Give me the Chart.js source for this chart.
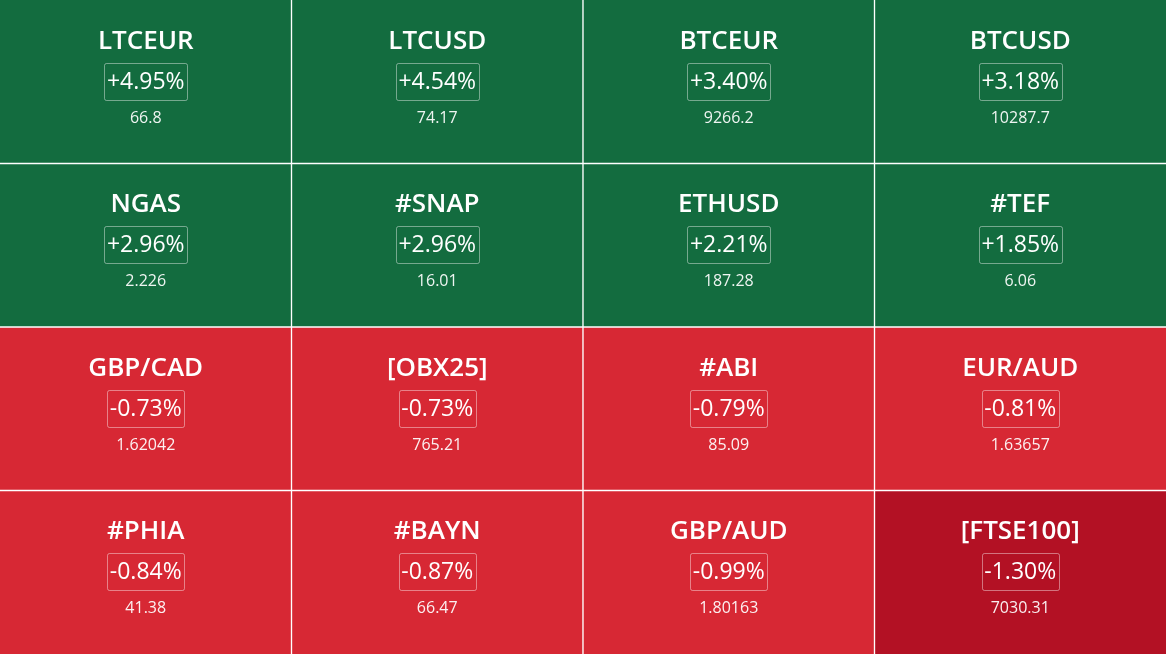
<!DOCTYPE html>
<html>
<head>
<meta charset="utf-8">
<script src="https://cdn.jsdelivr.net/npm/chart.js@4/dist/chart.umd.min.js"></script>
<style>
  html, body { margin: 0; padding: 0; background: #ffffff; }
  #wrap { width: 1166px; height: 654px; position: relative; }
</style>
</head>
<body>
<div id="wrap"><canvas id="c" width="1166" height="654"></canvas></div>
<script>
// Tile data, row by row (4 columns)
const symbols = [
  "LTCEUR", "LTCUSD", "BTCEUR", "BTCUSD",
  "NGAS", "#SNAP", "ETHUSD", "#TEF",
  "GBP/CAD", "[OBX25]", "#ABI", "EUR/AUD",
  "#PHIA", "#BAYN", "GBP/AUD", "[FTSE100]"
];
const changes = [
  4.95, 4.54, 3.40, 3.18,
  2.96, 2.96, 2.21, 1.85,
  -0.73, -0.73, -0.79, -0.81,
  -0.84, -0.87, -0.99, -1.30
];
const prices = [
  "66.8", "74.17", "9266.2", "10287.7",
  "2.226", "16.01", "187.28", "6.06",
  "1.62042", "765.21", "85.09", "1.63657",
  "41.38", "66.47", "1.80163", "7030.31"
];
const columns = ["c1", "c2", "c3", "c4"];
const rows = 4;

const GREEN = "#136c3f";
const RED = "#d72834";
const DARK_RED = "#b31124";

function tileColor(v) {
  if (v > 0) return GREEN;
  if (v <= -1) return DARK_RED;
  return RED;
}
function fmtChange(v) {
  return (v > 0 ? "+" : "") + v.toFixed(2) + "%";
}

const datasets = [];
for (let r = 0; r < rows; r++) {
  const idx = columns.map((_, c) => r * columns.length + c);
  datasets.push({
    label: "row" + r,
    data: idx.map(() => [r, r + 1]),
    tileIndex: idx,
    backgroundColor: idx.map(i => tileColor(changes[i])),
    borderColor: "#ffffff",
    borderSkipped: false,
    borderWidth: (ctx) => {
      const c = ctx.dataIndex;
      const rr = ctx.datasetIndex;
      return {
        left: c > 0 ? 1 : 0,
        right: c < columns.length - 1 ? 1 : 0,
        top: rr > 0 ? 1 : 0,
        bottom: rr < rows - 1 ? 1 : 0
      };
    },
    categoryPercentage: 1,
    barPercentage: 1,
    grouped: false
  });
}

const FONT = "'Open Sans', 'Noto Sans', sans-serif";

const labelsPlugin = {
  id: "tileLabels",
  afterDatasetsDraw(chart) {
    const ctx = chart.ctx;
    ctx.save();
    chart.data.datasets.forEach((ds, di) => {
      const meta = chart.getDatasetMeta(di);
      meta.data.forEach((el, j) => {
        const i = ds.tileIndex[j];
        const p = el.getProps(["x", "y", "base", "width"], true);
        const top = Math.min(p.y, p.base);
        const bottom = Math.max(p.y, p.base);
        const cx = p.x;
        const cy = (top + bottom) / 2;

        ctx.textAlign = "center";
        ctx.textBaseline = "middle";

        // symbol
        ctx.fillStyle = "#ffffff";
        ctx.font = "600 26px " + FONT;
        ctx.fillText(symbols[i], cx, cy - 40.5);

        // change box
        ctx.font = "400 23px " + FONT;
        const txt = fmtChange(changes[i]);
        const w = Math.round(ctx.measureText(txt).width + 5);
        const h = 37;
        const bx = Math.round(cx - w / 2) + 0.5;
        const by = Math.round(cy - 0.5 - h / 2) + 0.5;
        ctx.strokeStyle = "rgba(255,255,255,0.42)";
        ctx.lineWidth = 1;
        ctx.beginPath();
        if (ctx.roundRect) ctx.roundRect(bx, by, w, h, 2);
        else ctx.rect(bx, by, w, h);
        ctx.stroke();
        ctx.fillStyle = "#ffffff";
        ctx.fillText(txt, cx, cy + 0.5);

        // price
        ctx.font = "400 16px " + FONT;
        ctx.fillStyle = "rgba(255,255,255,0.93)";
        ctx.fillText(prices[i], cx, cy + 36.5);
      });
    });
    ctx.restore();
  }
};

new Chart(document.getElementById("c"), {
  type: "bar",
  data: { labels: columns, datasets },
  options: {
    responsive: false,
    animation: false,
    maintainAspectRatio: false,
    layout: { padding: 0 },
    plugins: { legend: { display: false }, tooltip: { enabled: false } },
    scales: {
      x: { display: false, offset: true, grid: { display: false } },
      y: { display: false, min: 0, max: rows, reverse: true, grid: { display: false } }
    }
  },
  plugins: [labelsPlugin]
});
</script>
</body>
</html>
